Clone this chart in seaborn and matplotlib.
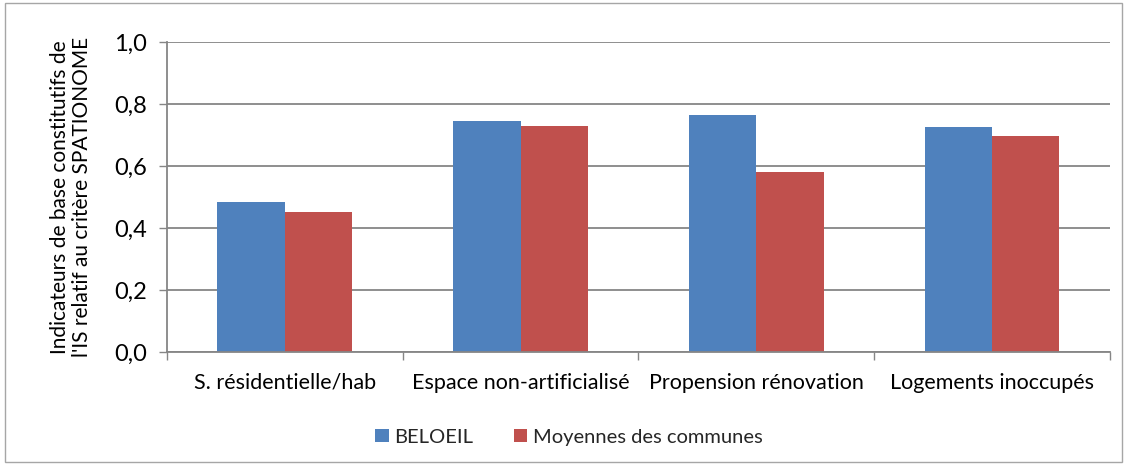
import matplotlib
matplotlib.use("Agg")
import matplotlib.pyplot as plt
import matplotlib.ticker as mticker
from matplotlib.patches import Rectangle
import pandas as pd
import seaborn as sns

categories = ["S. résidentielle/hab", "Espace non-artificialisé",
              "Propension rénovation", "Logements inoccupés"]
series_names = ["BELOEIL", "Moyennes des communes"]
beloeil = [0.484, 0.745, 0.763, 0.724]
moyennes = [0.450, 0.728, 0.579, 0.696]
y_ticks = [0.0, 0.2, 0.4, 0.6, 0.8, 1.0]
y_label = "Indicateurs de base constitutifs de\nl'IS relatif au critère SPATIONOME"

df = pd.DataFrame({
    "categorie": categories * 2,
    "serie": [series_names[0]] * 4 + [series_names[1]] * 4,
    "valeur": beloeil + moyennes,
})

sns.set_theme(style="white")
plt.rcParams["font.family"] = ["Lato", "DejaVu Sans"]

fig = plt.figure(figsize=(11.27, 4.65), dpi=100)
ax = fig.add_axes([0.148, 0.243, 0.837, 0.667])

sns.barplot(data=df, x="categorie", y="valeur", hue="serie",
            palette=["#4F81BD", "#C0504D"], width=0.57, ax=ax,
            saturation=1, errorbar=None, legend=True, linewidth=0)

grid_col = "#868686"
ax.set_ylim(0, 1.0)
ax.set_xlim(-0.5, len(categories) - 0.5)
ax.set_yticks(y_ticks)
ax.yaxis.set_major_formatter(mticker.FuncFormatter(lambda v, p: f"{v:.1f}".replace(".", ",")))
ax.yaxis.grid(True, color=grid_col, linewidth=1.3)
ax.set_axisbelow(True)

# category boundary ticks, like the original
ax.set_xticks([i + 0.5 for i in range(-1, len(categories))], minor=True)
ax.tick_params(axis="x", which="minor", length=6, color=grid_col, width=1, direction="out", bottom=True)
ax.tick_params(axis="x", which="major", length=0, labelsize=15.5, pad=15, colors="black")
ax.tick_params(axis="y", length=6, color=grid_col, width=1, direction="out", left=True,
               labelsize=17, pad=8, labelcolor="black")

for side in ["top", "right"]:
    ax.spines[side].set_visible(False)
for side in ["left", "bottom"]:
    ax.spines[side].set_color(grid_col)
    ax.spines[side].set_linewidth(1.3)

ax.set_xlabel("")
ax.set_ylabel(y_label, fontsize=15, labelpad=16, color="black", linespacing=1.15)

handles, labels = ax.get_legend_handles_labels()
ax.legend(handles, labels, loc="center", bbox_to_anchor=(0.505, 0.06),
          bbox_transform=fig.transFigure, ncol=2, frameon=False, fontsize=14.5,
          handlelength=0.65, handleheight=0.65, handletextpad=0.3, columnspacing=2.0)

fig.patches.append(Rectangle((0.004, 0.006), 0.992, 0.988, transform=fig.transFigure,
                             fill=False, edgecolor="#A6A6A6", linewidth=1))

fig.savefig("out.png", dpi=100)
